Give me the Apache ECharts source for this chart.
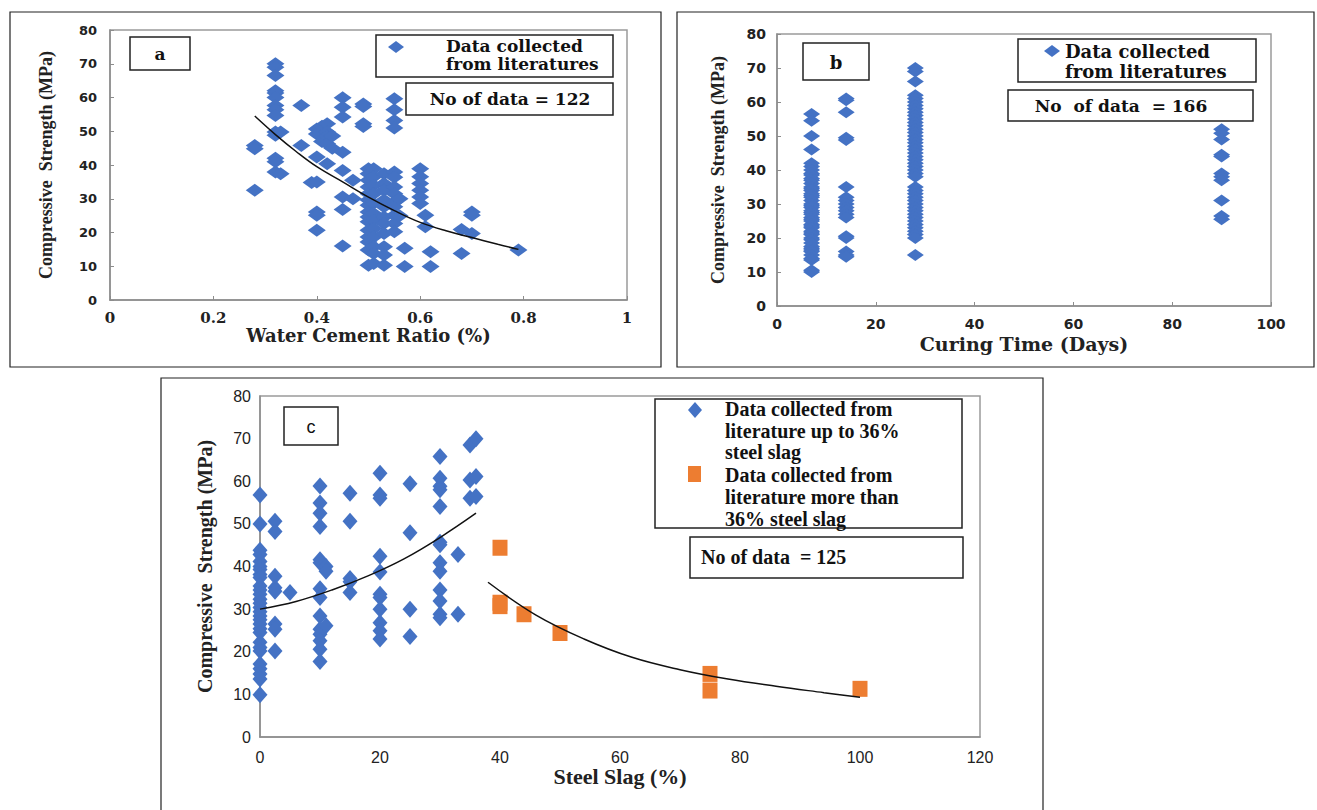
<!DOCTYPE html>
<html>
<head>
<meta charset="utf-8">
<script src="https://cdn.jsdelivr.net/npm/echarts@6/dist/echarts.min.js"></script>
<style>html,body{margin:0;padding:0;background:#fff;}#main{width:1317px;height:810px;}</style>
</head>
<body>
<div id="main"></div>
<script>
// ---------- Panel a: Water cement ratio vs compressive strength ----------
const aX = [0.28,0.28,0.28,
 0.32,0.32,0.32,0.32,0.32,0.32,0.32,0.32,0.32,0.32,0.32,0.32,0.32,0.32,
 0.33,0.33, 0.37,0.37, 0.39,
 0.40,0.40,0.40,0.40,0.40,0.40,0.40, 0.41,0.41,
 0.42,0.42,0.42,0.42,0.42, 0.43,0.43,
 0.45,0.45,0.45,0.45,0.45,0.45,0.45,0.45, 0.47,0.47,
 0.49,0.49,0.49,0.49,
 0.50,0.50,0.50,0.50,0.50,0.50,0.50,0.50,0.50,0.50,0.50,0.50,0.50,0.50,0.50,
 0.51,0.51,0.51,0.51,0.51,0.51,0.51,0.51,0.51,0.51,0.51,0.51,
 0.53,0.53,0.53,0.53,0.53,0.53,0.53,0.53,0.53,0.53,0.53,
 0.55,0.55,0.55,0.55,0.55,0.55,0.55,0.55,0.55,0.55,0.55,0.55,0.55,
 0.56,0.56, 0.57,0.57,
 0.60,0.60,0.60,0.60,0.60,0.60, 0.61,0.61, 0.62,0.62,
 0.68,0.68, 0.70,0.70,0.70, 0.79];
const aY = [45.8,44.8,32.5,
 70,69,66.5,62,61.3,60,57.6,56.4,54.7,49.8,48.8,42,41,37.9,
 49.8,37.4, 57.6,45.8, 34.8,
 50.7,49.2,42.4,35,26.1,25.1,20.7, 51.5,47,
 52.2,49.8,48.5,46.3,40.4, 48.6,45,
 59.9,57.1,54.2,43.8,38.4,30.5,26.8,16, 35.5,30,
 58.1,57.3,52.2,51.4,
 38.9,37.4,35.5,33.5,31.5,29.6,28.1,26.1,24.6,23.2,20.7,18.7,17.2,14.8,10.3,
 38.9,36.5,34,31.5,28.7,25.6,23.6,21.2,18.7,15.8,13.8,10.8,
 37.4,34.5,32.5,29.6,27.6,24.6,22.7,19.7,15.8,13.3,10.3,
 59.6,56.4,53.2,51,37.9,36.4,33.5,31.5,29,27.6,25.1,22.7,20.2,
 30,25, 15.3,9.9,
 38.9,36.5,34.5,32.5,30.5,28.6, 25.1,21.7, 14.3,9.9,
 20.9,13.8, 26.1,25.1,19.7, 14.8];
const aTrendX = [0.28,0.32,0.36,0.40,0.45,0.50,0.55,0.60,0.65,0.70,0.75,0.79];
const aTrendY = [54.5,49,44,39.5,35,30.5,26.5,23,20.5,18.5,16.5,15];

// ---------- Panel b: Curing time vs compressive strength ----------
const bDays = [7,14,28,90];
const b7  = [56.5,54.5,50,46,42,41,40,39,38.5,37.5,37,36,35,34.5,34,33,32.5,32,31,30,29.5,29,28,27.5,27,26,25.5,25,24,23.5,23,22,21.5,21,20,19.5,18.5,17.5,17,16.5,16,15,14,13.5,10.5,10];
const b14 = [61,60.5,57,49.5,48.8,35,32,31,30,29,28,27,26,20.5,20,16,15,14.5];
const b28 = [70,69,66,62,61,60,59,58,57,56,55,54,53,52,51,50,49,48,47,46,45,44,43,42,41,40,39,38,35,34,33,32,31,30,29,28,27,26,25,24,23,22,21,20,15];
const b90 = [52,50.8,49,44.5,44,39,38,37,31,26.5,25.5];

// ---------- Panel c: Steel slag vs compressive strength ----------
const cLowX = [0,0,0,0,0,0,0,0,0,0,0,0,0,0,0,0,0,0,0,0,0,0,0,0,0,0,0,0,0,
 2.5,2.5,2.5,2.5,2.5,2.5,2.5,2.5, 5,
 10,10,10,10,10,10,10,10,10,10,10,10,10,10, 11,11,11,
 15,15,15,15,15,
 20,20,20,20,20,20,20,20,20,20,20,
 25,25,25,25,
 30,30,30,30,30,30,30,30,30,30,30,30,30,
 33,33, 35,35,35, 36,36,36];
const cLowY = [56.8,50,43.8,42.8,41.2,40,39.3,38.1,37.4,35.4,34.5,33.5,32.3,31.4,30.4,29.4,28.4,27.5,26.5,25.4,24.5,22.2,21,20.2,17.1,16,14.8,13.6,9.9,
 50.6,48.2,37.7,35,34.2,26.5,25.3,20.2, 33.9,
 58.9,54.9,52.5,49.4,41.6,40.9,34.8,32.7,28.4,25.3,24.1,22.6,20.6,17.7, 40,38.9,26.1,
 57.2,50.6,37.2,36.4,33.9,
 61.9,56.8,56,42.4,38.7,33.5,32.7,30,26.8,24.9,23,
 59.4,47.9,30,23.6,
 65.8,60.7,58.8,58,54.1,45.7,45.1,40.9,38.9,34.5,31.9,28.8,28,
 42.8,28.8, 68.5,60.3,56, 70,61.1,56.4];
const cHighX = [40,40,40,44,50,75,75,100];
const cHighY = [44.4,31.5,30.7,28.8,24.4,14.8,10.9,11.3];
const cTrend1X = [0,6,12,18,24,30,36];
const cTrend1Y = [30,31.8,34.5,37.8,41.8,46.8,52.5];
const cTrend2X = [38,46,54,62,70,78,86,94,100];
const cTrend2Y = [36.3,28.6,23,18.7,15.8,13.6,11.9,10.4,9.3];

const BLUE = '#4472C4', ORANGE = '#ED7D31';
const zip = (xs, ys) => xs.map((x, i) => [x, ys[i]]);
const col = (x, ys) => ys.map(y => [x, y]);

const chart = echarts.init(document.getElementById('main'), null, {renderer: 'svg'});

const serifB = '"DejaVu Serif", "Liberation Serif", serif';
function axisBase(extra) {
  return Object.assign({
    type: 'value',
    splitLine: {show: false},
    axisLine: {show: true, lineStyle: {color: '#8c8c8c', width: 1.5}},
    axisTick: {show: true, inside: true, length: 4, lineStyle: {color: '#8c8c8c'}},
  }, extra);
}
const legFontA = 'bold 17px "DejaVu Serif", "Liberation Serif", serif';
const legFontB = 'bold 18px "DejaVu Serif", "Liberation Serif", serif';
const legFontC = 'bold 20px "Liberation Serif", serif';

const option = {
  animation: false,
  backgroundColor: '#fff',
  grid: [
    {left: 110, top: 30, width: 517, height: 270, show: true, borderColor: '#9a9a9a', borderWidth: 1.5, backgroundColor: 'transparent'},
    {left: 777, top: 34, width: 494, height: 272, show: true, borderColor: '#9a9a9a', borderWidth: 1.5, backgroundColor: 'transparent'},
    {left: 260, top: 396, width: 720, height: 341, show: true, borderColor: '#9a9a9a', borderWidth: 1.5, backgroundColor: 'transparent'}
  ],
  xAxis: [
    axisBase({gridIndex: 0, min: 0, max: 1, interval: 0.2,
      axisLabel: {margin: 10, color: '#222', fontFamily: '"DejaVu Serif", serif', fontWeight: 'bold', fontSize: 15},
      name: 'Water Cement Ratio (%)', nameLocation: 'middle', nameGap: 26,
      nameTextStyle: {fontFamily: serifB, fontWeight: 'bold', fontSize: 18, color: '#222'}}),
    axisBase({gridIndex: 1, min: 0, max: 100, interval: 20,
      axisLabel: {margin: 11, color: '#222', fontFamily: '"DejaVu Sans", sans-serif', fontWeight: 'bold', fontSize: 14},
      name: 'Curing Time (Days)', nameLocation: 'middle', nameGap: 28,
      nameTextStyle: {fontFamily: serifB, fontWeight: 'bold', fontSize: 19, color: '#222'}}),
    axisBase({gridIndex: 2, min: 0, max: 120, interval: 20,
      axisTick: {show: false},
      axisLabel: {margin: 12, color: '#222', fontFamily: '"Liberation Sans Narrow", "Liberation Sans"', fontSize: 16},
      name: 'Steel Slag (%)', nameLocation: 'middle', nameGap: 24,
      nameTextStyle: {fontFamily: 'Liberation Serif', fontWeight: 'bold', fontSize: 22, color: '#222'}})
  ],
  yAxis: [
    axisBase({gridIndex: 0, min: 0, max: 80, interval: 10,
      axisLabel: {margin: 13, color: '#222', fontFamily: '"DejaVu Sans", sans-serif', fontWeight: 'bold', fontSize: 13},
      name: 'Compressive  Strength (MPa)', nameLocation: 'middle', nameGap: 55,
      nameTextStyle: {fontFamily: 'Liberation Serif', fontWeight: 'bold', fontSize: 18, color: '#222'}}),
    axisBase({gridIndex: 1, min: 0, max: 80, interval: 10,
      axisLabel: {margin: 11, color: '#222', fontFamily: '"DejaVu Sans", sans-serif', fontWeight: 'bold', fontSize: 14},
      name: 'Compressive  Strength (MPa)', nameLocation: 'middle', nameGap: 50,
      nameTextStyle: {fontFamily: 'Liberation Serif', fontWeight: 'bold', fontSize: 18, color: '#222'}}),
    axisBase({gridIndex: 2, min: 0, max: 80, interval: 10,
      axisTick: {show: false},
      axisLabel: {margin: 9, color: '#222', fontFamily: '"Liberation Sans Narrow", "Liberation Sans"', fontSize: 16},
      name: 'Compressive  Strength (MPa)', nameLocation: 'middle', nameGap: 45,
      nameTextStyle: {fontFamily: 'Liberation Serif', fontWeight: 'bold', fontSize: 20, color: '#222'}})
  ],
  series: [
    {name: 'Data collected from literatures (a)', type: 'scatter', xAxisIndex: 0, yAxisIndex: 0,
      symbol: 'diamond', symbolSize: [18, 13], itemStyle: {color: BLUE, opacity: 1}, data: zip(aX, aY)},
    {name: 'Trend a', type: 'line', xAxisIndex: 0, yAxisIndex: 0, smooth: 0.4, showSymbol: false,
      lineStyle: {color: '#111', width: 1.5}, data: zip(aTrendX, aTrendY), z: 5},
    {name: 'Data collected from literatures (b)', type: 'scatter', xAxisIndex: 1, yAxisIndex: 1,
      symbol: 'diamond', symbolSize: [17, 12], itemStyle: {color: BLUE, opacity: 1},
      data: [].concat(col(bDays[0], b7), col(bDays[1], b14), col(bDays[2], b28), col(bDays[3], b90))},
    {name: 'Data collected from literature up to 36% steel slag', type: 'scatter', xAxisIndex: 2, yAxisIndex: 2,
      symbol: 'diamond', symbolSize: [15, 17], itemStyle: {color: BLUE, opacity: 1}, data: zip(cLowX, cLowY)},
    {name: 'Data collected from literature more than 36% steel slag', type: 'scatter', xAxisIndex: 2, yAxisIndex: 2,
      symbol: 'rect', symbolSize: [15, 16], itemStyle: {color: ORANGE, opacity: 1}, data: zip(cHighX, cHighY)},
    {name: 'Trend c1', type: 'line', xAxisIndex: 2, yAxisIndex: 2, smooth: 0.4, showSymbol: false,
      lineStyle: {color: '#111', width: 1.5}, data: zip(cTrend1X, cTrend1Y), z: 5},
    {name: 'Trend c2', type: 'line', xAxisIndex: 2, yAxisIndex: 2, smooth: 0.4, showSymbol: false,
      lineStyle: {color: '#111', width: 1.5}, data: zip(cTrend2X, cTrend2Y), z: 5}
  ],
  graphic: [
    // outer frames
    {type: 'rect', shape: {x: 10, y: 12, width: 651, height: 355}, style: {fill: 'none', stroke: '#222', lineWidth: 1.2}, z: 100},
    {type: 'rect', shape: {x: 677, y: 12, width: 637, height: 355}, style: {fill: 'none', stroke: '#222', lineWidth: 1.2}, z: 100},
    {type: 'rect', shape: {x: 161, y: 378, width: 882, height: 440}, style: {fill: 'none', stroke: '#222', lineWidth: 1.2}, z: 100},

    // panel a label box + legend
    {type: 'rect', shape: {x: 130, y: 37, width: 60, height: 33}, style: {fill: '#fff', stroke: '#222', lineWidth: 1.5}, z: 100},
    {type: 'text', x: 160, y: 54, style: {text: 'a', font: 'bold 17px "DejaVu Serif", serif', fill: '#111', align: 'center', verticalAlign: 'middle'}, z: 101},
    {type: 'rect', shape: {x: 376, y: 35, width: 237, height: 42}, style: {fill: '#fff', stroke: '#222', lineWidth: 1.5}, z: 100},
    {type: 'polygon', shape: {points: [[396, 41], [404, 47], [396, 53], [388, 47]]}, style: {fill: BLUE}, z: 101},
    {type: 'text', x: 446, y: 46, style: {text: 'Data collected', font: legFontA, fill: '#111', verticalAlign: 'middle'}, z: 101},
    {type: 'text', x: 446, y: 64, style: {text: 'from literatures', font: legFontA, fill: '#111', verticalAlign: 'middle'}, z: 101},
    {type: 'rect', shape: {x: 406, y: 83, width: 207, height: 32}, style: {fill: '#fff', stroke: '#222', lineWidth: 1.5}, z: 100},
    {type: 'text', x: 510, y: 99, style: {text: 'No of data = 122', font: legFontA, fill: '#111', align: 'center', verticalAlign: 'middle'}, z: 101},

    // panel b label box + legend
    {type: 'rect', shape: {x: 803, y: 43, width: 66, height: 37}, style: {fill: '#fff', stroke: '#222', lineWidth: 1.5}, z: 100},
    {type: 'text', x: 836, y: 62, style: {text: 'b', font: 'bold 18px "DejaVu Serif", serif', fill: '#111', align: 'center', verticalAlign: 'middle'}, z: 101},
    {type: 'rect', shape: {x: 1018, y: 39, width: 238, height: 43}, style: {fill: '#fff', stroke: '#222', lineWidth: 1.5}, z: 100},
    {type: 'polygon', shape: {points: [[1052, 45], [1060, 51], [1052, 57], [1044, 51]]}, style: {fill: BLUE}, z: 101},
    {type: 'text', x: 1065, y: 51, style: {text: 'Data collected', font: legFontB, fill: '#111', verticalAlign: 'middle'}, z: 101},
    {type: 'text', x: 1065, y: 71, style: {text: 'from literatures', font: legFontB, fill: '#111', verticalAlign: 'middle'}, z: 101},
    {type: 'rect', shape: {x: 1008, y: 90, width: 245, height: 31}, style: {fill: '#fff', stroke: '#222', lineWidth: 1.5}, z: 100},
    {type: 'text', x: 1121, y: 106, style: {text: 'No  of data  = 166', font: 'bold 17px "DejaVu Serif", "Liberation Serif", serif', fill: '#111', align: 'center', verticalAlign: 'middle'}, z: 101},

    // panel c label box + legend
    {type: 'rect', shape: {x: 284, y: 407, width: 54, height: 38}, style: {fill: '#fff', stroke: '#222', lineWidth: 1.5}, z: 100},
    {type: 'text', x: 311, y: 427, style: {text: 'c', font: '18px "Liberation Sans"', fill: '#111', align: 'center', verticalAlign: 'middle'}, z: 101},
    {type: 'rect', shape: {x: 655, y: 399, width: 307, height: 129}, style: {fill: '#fff', stroke: '#222', lineWidth: 1.5}, z: 100},
    {type: 'polygon', shape: {points: [[695, 402], [702, 410], [695, 418], [688, 410]]}, style: {fill: BLUE}, z: 101},
    {type: 'text', x: 725, y: 409, style: {text: 'Data collected from', font: legFontC, fill: '#111', verticalAlign: 'middle'}, z: 101},
    {type: 'text', x: 725, y: 431, style: {text: 'literature up to 36%', font: legFontC, fill: '#111', verticalAlign: 'middle'}, z: 101},
    {type: 'text', x: 725, y: 452, style: {text: 'steel slag', font: legFontC, fill: '#111', verticalAlign: 'middle'}, z: 101},
    {type: 'rect', shape: {x: 688, y: 466, width: 13, height: 16}, style: {fill: ORANGE}, z: 101},
    {type: 'text', x: 725, y: 475, style: {text: 'Data collected from', font: legFontC, fill: '#111', verticalAlign: 'middle'}, z: 101},
    {type: 'text', x: 725, y: 497, style: {text: 'literature more than', font: legFontC, fill: '#111', verticalAlign: 'middle'}, z: 101},
    {type: 'text', x: 725, y: 519, style: {text: '36% steel slag', font: legFontC, fill: '#111', verticalAlign: 'middle'}, z: 101},
    {type: 'rect', shape: {x: 690, y: 537, width: 273, height: 41}, style: {fill: '#fff', stroke: '#222', lineWidth: 1.5}, z: 100},
    {type: 'text', x: 701, y: 557, style: {text: 'No of data  = 125', font: legFontC, fill: '#111', verticalAlign: 'middle'}, z: 101}
  ]
};
chart.setOption(option);
</script>
</body>
</html>
